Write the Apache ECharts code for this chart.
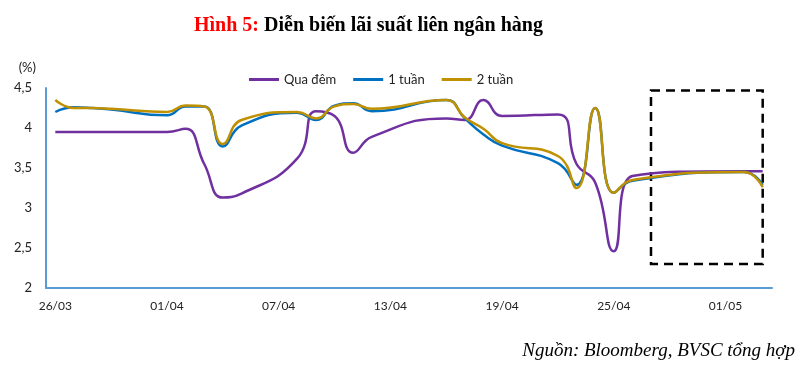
<!DOCTYPE html>
<html>
<head>
<meta charset="utf-8">
<script src="https://cdn.jsdelivr.net/npm/echarts@6/dist/echarts.min.js"></script>
<style>html,body{margin:0;padding:0;background:#fff}#c{width:800px;height:370px}</style>
</head>
<body>
<div id="c"></div>
<script>
// Calendar days shown on the axis (26/03 .. 03/05); null = no trading day
const categories = ['26/03','27/03','28/03','29/03','30/03','31/03',
  '01/04','02/04','03/04','04/04','05/04','06/04','07/04','08/04','09/04','10/04',
  '11/04','12/04','13/04','14/04','15/04','16/04','17/04','18/04','19/04','20/04',
  '21/04','22/04','23/04','24/04','25/04','26/04','27/04','28/04','29/04','30/04',
  '01/05','02/05','03/05'];
const quaDem = [3.95,3.95,3.95,3.95,null,null,
  3.95,3.99,3.55,3.13,3.18,null,null,3.62,4.21,4.15,
  3.69,3.89,null,null,null,4.12,4.1,4.35,4.15,null,
  null,4.17,3.55,3.32,2.46,3.4,null,null,null,null,
  null,3.46,3.46];
const motTuan = [4.2,4.26,4.25,4.23,null,null,
  4.16,4.27,4.27,3.77,4.03,null,null,4.19,4.1,4.28,
  4.31,4.21,null,null,null,4.35,4.12,3.92,3.78,null,
  null,3.56,3.29,4.25,3.19,3.34,null,null,null,null,
  null,3.45,3.29];
const haiTuan = [4.35,4.25,4.25,4.24,null,null,
  4.2,4.28,4.27,3.8,4.1,null,null,4.2,4.12,4.27,
  4.3,4.24,null,null,null,4.35,4.13,3.99,3.81,null,
  null,3.65,3.25,4.25,3.19,3.35,null,null,null,null,
  null,3.45,3.26];
const seriesNames = ['Qua đêm','1 tuần','2 tuần'];
// highlighted period (dashed box)
const boxFrom = {x: '27/04', y: 4.47};
const boxTo = {x: '03/05', y: 2.3};

const colors = ['#7030A0','#0070C0','#BF9000'];
const sansFont = 'Lato';
const chart = echarts.init(document.getElementById('c'), null, {renderer:'canvas'});

function lineSeries(name, data, color, extra) {
  return Object.assign({
    name: name, type: 'line', data: data, smooth: 0.5, connectNulls: true,
    symbol: 'none', lineStyle: {color: color, width: 2.5}, itemStyle: {color: color},
    z: 3
  }, extra || {});
}

chart.setOption({
  animation: false,
  title: {
    text: '{r|Hình 5:} {b|Diễn biến lãi suất liên ngân hàng}',
    left: 194, top: 16, padding: 0,
    textStyle: {
      fontFamily: 'Liberation Serif', fontWeight: 'bold', fontSize: 20,
      rich: {
        r: {color: '#FF0000', fontFamily: 'Liberation Serif', fontWeight: 'bold', fontSize: 20},
        b: {color: '#000000', fontFamily: 'Liberation Serif', fontWeight: 'bold', fontSize: 20}
      }
    }
  },
  legend: {
    data: seriesNames, left: 244, top: 68, icon: 'rect', itemWidth: 30, itemHeight: 3,
    itemGap: 17, textStyle: {fontFamily: sansFont, fontSize: 13, color: '#222'}
  },
  grid: {left: 46, right: 28, top: 88, bottom: 82},
  xAxis: {
    type: 'category', data: categories, boundaryGap: true,
    axisLine: {lineStyle: {color: '#5B9BD5', width: 2}},
    axisTick: {show: false},
    axisLabel: {interval: 5, fontFamily: sansFont, fontSize: 12, color: '#222', margin: 12}
  },
  yAxis: {
    type: 'value', min: 2, max: 4.5, interval: 0.5,
    name: '(%)', nameLocation: 'end', nameGap: 14,
    nameTextStyle: {fontFamily: sansFont, fontSize: 13, color: '#222', align: 'right', padding: [0, 10, 0, 0]},
    axisLine: {show: true, lineStyle: {color: '#5B9BD5', width: 2}},
    axisTick: {show: false},
    splitLine: {show: false},
    axisLabel: {fontFamily: sansFont, fontSize: 13, color: '#222', margin: 14,
      formatter: v => String(v).replace('.', ',')}
  },
  series: [
    lineSeries(seriesNames[0], quaDem, colors[0]),
    lineSeries(seriesNames[1], motTuan, colors[1]),
    lineSeries(seriesNames[2], haiTuan, colors[2], {
      markArea: {
        silent: true,
        itemStyle: {color: 'rgba(0,0,0,0)', borderColor: '#000', borderWidth: 2.5, borderType: [9, 6]},
        data: [[{xAxis: boxFrom.x, yAxis: boxFrom.y}, {xAxis: boxTo.x, yAxis: boxTo.y}]]
      }
    })
  ],
  graphic: [{
    type: 'text', right: 5, top: 341,
    style: {text: 'Nguồn: Bloomberg, BVSC tổng hợp', font: 'italic 19px "Liberation Serif"', fill: '#000'}
  }]
});
</script>
</body>
</html>
